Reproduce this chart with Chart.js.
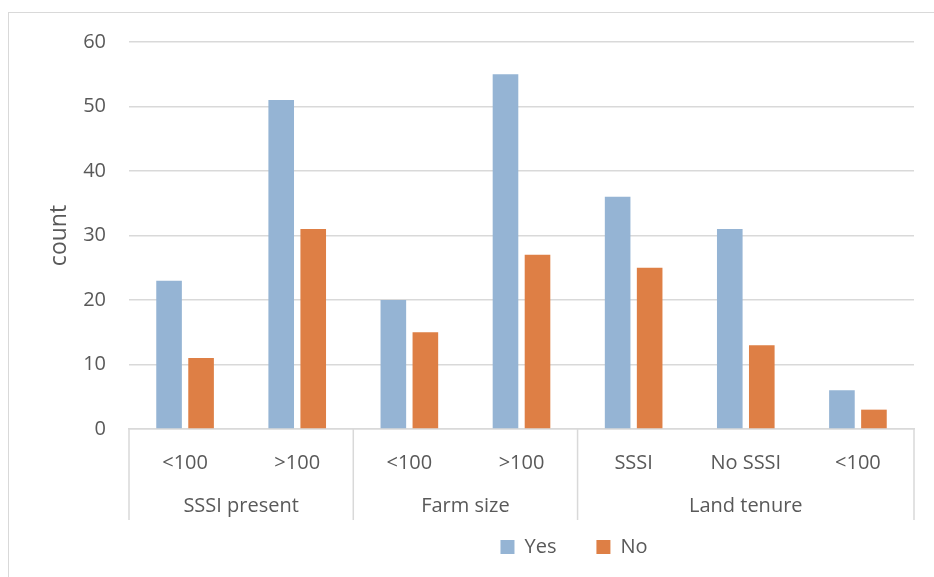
<!DOCTYPE html>
<html>
<head>
<meta charset="utf-8">
<script src="https://cdn.jsdelivr.net/npm/chart.js@4"></script>
<style>
  body { margin: 0; background: #fff; }
  #wrap { width: 934px; height: 577px; position: relative; }
</style>
</head>
<body>
<div id="wrap"><canvas id="chart" width="934" height="577"></canvas></div>
<script>
// categories, grouped under three headings
const categories = ['<100', '>100', '<100', '>100', 'SSSI', 'No SSSI', '<100'];
const groupNames = ['SSSI present', 'Farm size', 'Land tenure'];
const groupSizes = [2, 2, 3];

// counts
const yesValues = [23, 51, 20, 55, 36, 31, 6];
const noValues = [11, 31, 15, 27, 25, 13, 3];

const textColor = '#595959';
const lineColor = '#d9d9d9';
const fontFamily = '"Open Sans", sans-serif';

// draws the outer frame, group separators and group names under the axis
const groupAxis = {
  id: 'groupAxis',
  afterLayout(chart) {
    // the original chart is wider than the picture, so its legend sits right of centre
    chart.legend.left += 117;
    chart.legend.right += 117;
  },
  beforeDraw(chart) {
    const ctx = chart.ctx;
    ctx.save();
    ctx.strokeStyle = lineColor;
    ctx.lineWidth = 1;
    ctx.strokeRect(8.5, 12.5, 1000, 1000);
    ctx.restore();
  },
  afterDraw(chart) {
    const ctx = chart.ctx;
    const x = chart.scales.x;
    const top = chart.chartArea.bottom;
    ctx.save();
    ctx.strokeStyle = lineColor;
    ctx.lineWidth = 1.5;
    ctx.fillStyle = textColor;
    ctx.font = '20px ' + fontFamily;
    ctx.textAlign = 'center';
    ctx.textBaseline = 'middle';
    let start = 0;
    groupSizes.forEach((n, i) => {
      const left = x.getPixelForValue(start - 0.5);
      const right = x.getPixelForValue(start + n - 0.5);
      if (i === 0) {
        ctx.beginPath(); ctx.moveTo(left, top); ctx.lineTo(left, 520); ctx.stroke();
      }
      ctx.beginPath(); ctx.moveTo(right, top); ctx.lineTo(right, 520); ctx.stroke();
      ctx.fillText(groupNames[i], (left + right) / 2, 506);
      start += n;
    });
    ctx.restore();
  }
};

const ctx = document.getElementById('chart').getContext('2d');
new Chart(ctx, {
  type: 'bar',
  data: {
    labels: categories,
    datasets: [
      { label: 'Yes', data: yesValues, backgroundColor: '#95b4d4' },
      { label: 'No', data: noValues, backgroundColor: '#de7f45' }
    ]
  },
  options: {
    responsive: false,
    animation: false,
    categoryPercentage: 0.571,
    barPercentage: 0.8,
    layout: { padding: { top: 42, right: 20, left: 0, bottom: 10 } },
    plugins: {
      tooltip: { enabled: false },
      legend: {
        position: 'bottom',
        labels: {
          color: textColor,
          font: { family: fontFamily, size: 20 },
          boxWidth: 14,
          boxHeight: 14,
          padding: 40
        }
      }
    },
    scales: {
      x: {
        grid: { display: false },
        border: { display: true, color: lineColor, width: 1.5 },
        ticks: {
          color: textColor,
          font: { family: fontFamily, size: 20 },
          padding: 14,
          maxRotation: 0
        },
        afterFit(scale) { scale.height = 68; }
      },
      y: {
        min: 0,
        max: 60,
        ticks: {
          stepSize: 10,
          color: textColor,
          font: { family: fontFamily, size: 20 },
          padding: 23
        },
        grid: { color: lineColor, lineWidth: 1.5, drawTicks: false },
        border: { display: false },
        title: {
          display: true,
          text: 'count',
          color: textColor,
          font: { family: fontFamily, size: 23 },
          padding: { top: 46, bottom: 0 }
        },
        afterFit(scale) { scale.width = 129; }
      }
    }
  },
  plugins: [groupAxis]
});
</script>
</body>
</html>
